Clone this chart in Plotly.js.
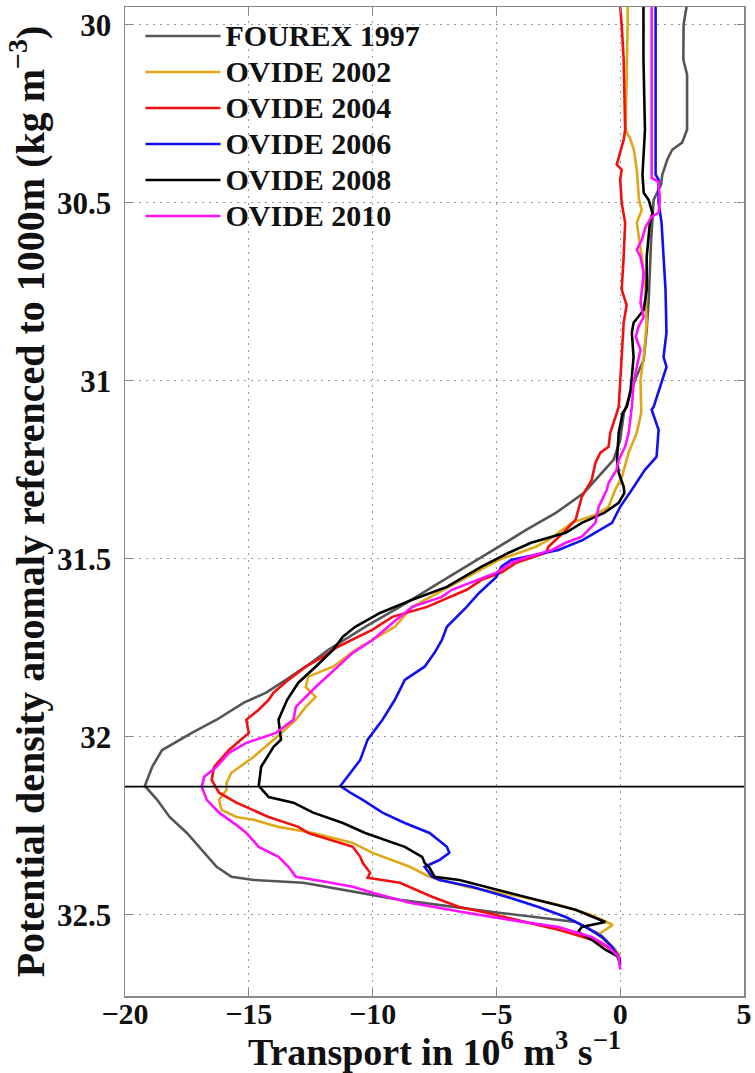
<!DOCTYPE html>
<html>
<head>
<meta charset="utf-8">
<script src="https://cdn.plot.ly/plotly-3.0.1.min.js"></script>
<style>
  html, body { margin: 0; padding: 0; background: #fff; }
  #chart { width: 755px; height: 1073px; }
  #chart .legendtext { font-size: 30px !important; }
  #chart .legend .scrollbox { clip-path: none !important; }
</style>
</head>
<body>
<div id="chart"></div>
<script>
// ---- Data (potential density anomaly, kg m^-3 ; transport, Sv) ----
const seriesNames = ["FOUREX 1997", "OVIDE 2002", "OVIDE 2004", "OVIDE 2006", "OVIDE 2008", "OVIDE 2010"];

const fourexDensity = [29.949, 30.0, 30.098, 30.140, 30.295, 30.331, 30.351, 30.379, 30.421, 30.449, 30.492, 30.604, 30.772, 30.857, 30.941, 30.997, 31.090, 31.166, 31.222, 31.270, 31.315, 31.371, 31.419, 31.466, 31.522, 31.567, 31.635, 31.691, 31.756, 31.803, 31.840, 31.876, 31.904, 31.952, 31.989, 32.037, 32.084, 32.138, 32.177, 32.225, 32.270, 32.317, 32.365, 32.393, 32.402, 32.410, 32.458, 32.494, 32.520, 32.556, 32.598, 32.640];
const fourexTransport = [2.68, 2.56, 2.55, 2.7, 2.7, 2.5, 2.1, 1.9, 1.7, 1.65, 1.35, 1.25, 1.15, 1.07, 0.95, 0.6, 0.15, 0.0, -0.27, -0.87, -1.47, -2.6, -3.8, -4.9, -6.2, -7.3, -8.9, -10.3, -11.8, -12.7, -13.5, -14.3, -15.2, -16.3, -17.3, -18.5, -18.9, -19.2, -18.7, -18.2, -17.5, -16.9, -16.3, -15.7, -14.8, -12.8, -8.9, -4.9, -1.8, -0.8, -0.2, 0];

const ovide2002Density = [29.949, 30.0, 30.295, 30.323, 30.351, 30.407, 30.492, 30.520, 30.556, 30.652, 30.744, 30.837, 30.933, 30.997, 31.090, 31.146, 31.202, 31.270, 31.306, 31.354, 31.376, 31.399, 31.447, 31.466, 31.503, 31.635, 31.691, 31.756, 31.803, 31.831, 31.860, 31.888, 31.916, 31.952, 32.008, 32.056, 32.101, 32.129, 32.149, 32.177, 32.205, 32.225, 32.233, 32.253, 32.270, 32.298, 32.326, 32.365, 32.393, 32.421, 32.449, 32.472, 32.500, 32.528, 32.556, 32.584, 32.610, 32.640];
const ovide2002Transport = [0.3, 0.3, 0.22, 0.42, 0.55, 0.67, 0.76, 0.87, 0.67, 0.87, 1.02, 1.07, 0.95, 0.82, 0.85, 0.67, 0.34, 0.07, -0.2, -0.47, -1.0, -1.95, -2.9, -3.4, -4.9, -8.4, -9.1, -10.7, -11.6, -12.6, -12.7, -12.3, -12.7, -13.1, -14.0, -14.8, -15.7, -15.9, -15.9, -16.2, -16.1, -15.5, -14.8, -13.8, -12.4, -10.8, -10.0, -8.5, -7.7, -6.2, -4.0, -2.5, -1.2, -0.3, -0.9, -0.4, -0.05, 0];

const ovide2004Density = [29.949, 30.0, 30.098, 30.295, 30.323, 30.379, 30.393, 30.407, 30.435, 30.500, 30.556, 30.652, 30.744, 30.787, 30.837, 30.933, 31.006, 31.073, 31.146, 31.185, 31.202, 31.230, 31.278, 31.326, 31.390, 31.427, 31.466, 31.483, 31.511, 31.539, 31.559, 31.587, 31.635, 31.663, 31.699, 31.747, 31.775, 31.803, 31.840, 31.876, 31.896, 31.924, 31.952, 31.989, 32.037, 32.084, 32.121, 32.157, 32.185, 32.225, 32.253, 32.270, 32.309, 32.337, 32.354, 32.382, 32.396, 32.410, 32.449, 32.478, 32.494, 32.524, 32.542, 32.556, 32.576, 32.604, 32.626];
const ovide2004Transport = [0.0, 0.06, 0.14, 0.2, 0.14, -0.06, -0.14, 0.06, 0.0, 0.06, 0.2, 0.14, 0.06, 0.26, 0.14, 0.06, 0.0, -0.06, -0.4, -0.47, -0.8, -1.0, -1.15, -1.55, -1.8, -2.3, -2.9, -3.0, -4.2, -4.8, -5.6, -6.2, -7.8, -9.2, -10.0, -11.4, -12.0, -12.7, -13.4, -14.0, -14.2, -14.6, -15.1, -15.0, -15.8, -16.4, -16.5, -16.2, -15.5, -14.2, -13.0, -12.6, -10.8, -10.5, -10.4, -10.1, -10.2, -8.9, -7.6, -6.5, -5.4, -3.6, -2.5, -1.8, -0.87, -0.2, 0];

const ovide2006Density = [29.949, 30.421, 30.435, 30.500, 30.556, 30.652, 30.744, 30.865, 30.933, 30.961, 31.006, 31.073, 31.081, 31.138, 31.213, 31.250, 31.306, 31.354, 31.399, 31.447, 31.475, 31.503, 31.522, 31.551, 31.596, 31.635, 31.691, 31.728, 31.764, 31.803, 31.840, 31.896, 31.952, 32.008, 32.065, 32.101, 32.138, 32.157, 32.177, 32.213, 32.242, 32.270, 32.309, 32.326, 32.346, 32.365, 32.393, 32.402, 32.421, 32.449, 32.478, 32.506, 32.534, 32.562, 32.590, 32.618, 32.640];
const ovide2006Transport = [1.43, 1.43, 1.55, 1.55, 1.67, 1.75, 1.83, 1.87, 1.75, 1.87, 1.67, 1.35, 1.27, 1.55, 1.47, 1.0, 0.47, 0.0, -0.33, -1.5, -2.5, -4.4, -4.8, -5.0, -5.7, -6.2, -7.0, -7.2, -7.5, -7.9, -8.7, -9.1, -9.6, -10.2, -10.5, -10.9, -11.3, -10.9, -10.4, -9.6, -8.7, -7.7, -7.0, -6.9, -7.3, -7.9, -7.6, -7.3, -6.0, -4.6, -3.3, -2.2, -1.4, -0.74, -0.33, -0.06, 0];

const ovide2008Density = [29.949, 30.098, 30.295, 30.421, 30.472, 30.492, 30.528, 30.556, 30.652, 30.744, 30.801, 30.837, 30.865, 30.933, 30.989, 31.025, 31.073, 31.090, 31.146, 31.222, 31.258, 31.298, 31.315, 31.343, 31.371, 31.399, 31.427, 31.455, 31.483, 31.522, 31.579, 31.615, 31.652, 31.691, 31.719, 31.756, 31.803, 31.848, 31.896, 31.952, 32.008, 32.028, 32.084, 32.138, 32.169, 32.185, 32.213, 32.242, 32.270, 32.309, 32.337, 32.354, 32.368, 32.393, 32.402, 32.430, 32.458, 32.486, 32.520, 32.534, 32.548, 32.570, 32.598, 32.618, 32.632];
const ovide2008Transport = [0.94, 0.94, 1.0, 0.9, 0.95, 1.15, 1.3, 1.2, 1.07, 1.07, 0.95, 0.54, 0.47, 0.54, 0.47, 0.42, 0.27, 0.1, -0.06, -0.13, -0.06, 0.14, 0.17, -0.06, -0.65, -1.55, -2.2, -3.6, -4.5, -5.6, -7.0, -8.4, -9.7, -10.7, -11.2, -11.6, -12.3, -13.0, -13.45, -13.8, -13.7, -14.0, -14.5, -14.6, -14.2, -13.2, -12.4, -11.2, -10.3, -8.7, -8.0, -7.9, -7.7, -7.5, -6.5, -4.9, -3.3, -1.8, -0.6, -1.55, -1.7, -1.15, -0.6, -0.06, 0];

const ovide2010Density = [29.949, 30.430, 30.441, 30.492, 30.528, 30.539, 30.567, 30.604, 30.632, 30.652, 30.697, 30.744, 30.781, 30.820, 30.848, 30.876, 30.913, 30.961, 31.006, 31.073, 31.146, 31.185, 31.222, 31.250, 31.287, 31.306, 31.354, 31.399, 31.438, 31.455, 31.475, 31.494, 31.511, 31.539, 31.587, 31.607, 31.635, 31.680, 31.728, 31.764, 31.803, 31.860, 31.916, 31.952, 31.989, 32.017, 32.045, 32.084, 32.112, 32.140, 32.177, 32.213, 32.253, 32.270, 32.309, 32.337, 32.365, 32.393, 32.407, 32.421, 32.438, 32.466, 32.494, 32.517, 32.534, 32.562, 32.590, 32.618, 32.654];
const ovide2010Transport = [1.27, 1.27, 1.55, 1.6, 1.55, 1.27, 1.03, 0.87, 0.67, 0.82, 0.95, 0.87, 0.82, 0.95, 0.74, 0.63, 0.82, 0.67, 0.54, 0.47, 0.34, 0.2, -0.06, -0.15, -0.47, -0.54, -0.87, -1.0, -1.55, -2.2, -2.75, -3.7, -4.4, -5.0, -6.8, -7.2, -8.4, -9.2, -10.0, -10.8, -11.4, -12.3, -13.1, -13.2, -13.9, -15.1, -15.8, -16.3, -16.8, -16.9, -16.7, -16.2, -15.4, -15.1, -14.6, -13.8, -13.4, -13.1, -11.9, -10.8, -10.0, -8.5, -6.2, -4.2, -2.5, -1.15, -0.47, -0.06, 0];

const referenceDensity = 32.14;

const xTickVals = [-20, -15, -10, -5, 0, 5];
const yTickVals = [30, 30.5, 31, 31.5, 32, 32.5];

// ---- Styles ----
const colors = ["#555555", "#E0A817", "#F01010", "#1010F0", "#000000", "#FF10FF"];
const densities = [fourexDensity, ovide2002Density, ovide2004Density, ovide2006Density, ovide2008Density, ovide2010Density];
const transports = [fourexTransport, ovide2002Transport, ovide2004Transport, ovide2006Transport, ovide2008Transport, ovide2010Transport];

const FONT = "Liberation Serif, Times New Roman, serif";

const traces = seriesNames.map((name, i) => ({
  type: "scatter",
  mode: "lines",
  name: name,
  x: transports[i],
  y: densities[i],
  line: { color: colors[i], width: 2.6 },
  hoverinfo: "skip"
}));

const layout = {
  width: 755,
  height: 1073,
  margin: { l: 125, r: 11, t: 7, b: 77 },
  paper_bgcolor: "#ffffff",
  plot_bgcolor: "#ffffff",
  showlegend: true,
  legend: {
    x: 0.025, y: 0.994, xanchor: "left", yanchor: "top",
    bgcolor: "rgba(0,0,0,0)",
    borderwidth: 0,
    itemwidth: 75,
    font: { family: FONT, size: 25.4, color: "#111", weight: "bold" },
    tracegroupgap: 0
  },
  xaxis: {
    range: [-20, 5],
    tickvals: xTickVals,
    ticks: "inside",
    ticklen: 7,
    tickcolor: "#888",
    showline: true,
    linecolor: "#888",
    linewidth: 1.5,
    mirror: "ticks",
    showgrid: true,
    gridcolor: "#999999",
    griddash: "2px,5px",
    gridwidth: 1,
    zeroline: false,
    automargin: false,
    ticklabelstandoff: -10,
    tickfont: { family: FONT, size: 30, color: "#111", weight: "bold" },
    title: {
      text: "Transport in 10<sup>6</sup> m<sup>3</sup> s<sup>\u22121</sup>",
      font: { family: FONT, size: 38, color: "#111", weight: "bold" },
      standoff: 0
    }
  },
  yaxis: {
    range: [32.728, 29.95],
    tickvals: yTickVals,
    ticks: "inside",
    ticklen: 7,
    tickcolor: "#888",
    showline: true,
    linecolor: "#888",
    linewidth: 1.5,
    mirror: "ticks",
    showgrid: true,
    gridcolor: "#999999",
    griddash: "2px,5px",
    gridwidth: 1,
    zeroline: false,
    automargin: false,
    tickfont: { family: FONT, size: 31, color: "#111", weight: "bold" },
    ticklabelstandoff: 6,
    title: {
      text: "Potential density anomaly referenced to 1000m (kg m<sup>\u22123</sup>)",
      font: { family: FONT, size: 40, color: "#111", weight: "bold" },
      standoff: 0
    }
  },
  shapes: [{
    type: "line", xref: "paper", x0: 0, x1: 1,
    yref: "y", y0: referenceDensity, y1: referenceDensity,
    line: { color: "#000", width: 1.6 }
  }]
};

Plotly.newPlot("chart", traces, layout, { staticPlot: true, displayModeBar: false });
</script>
</body>
</html>
